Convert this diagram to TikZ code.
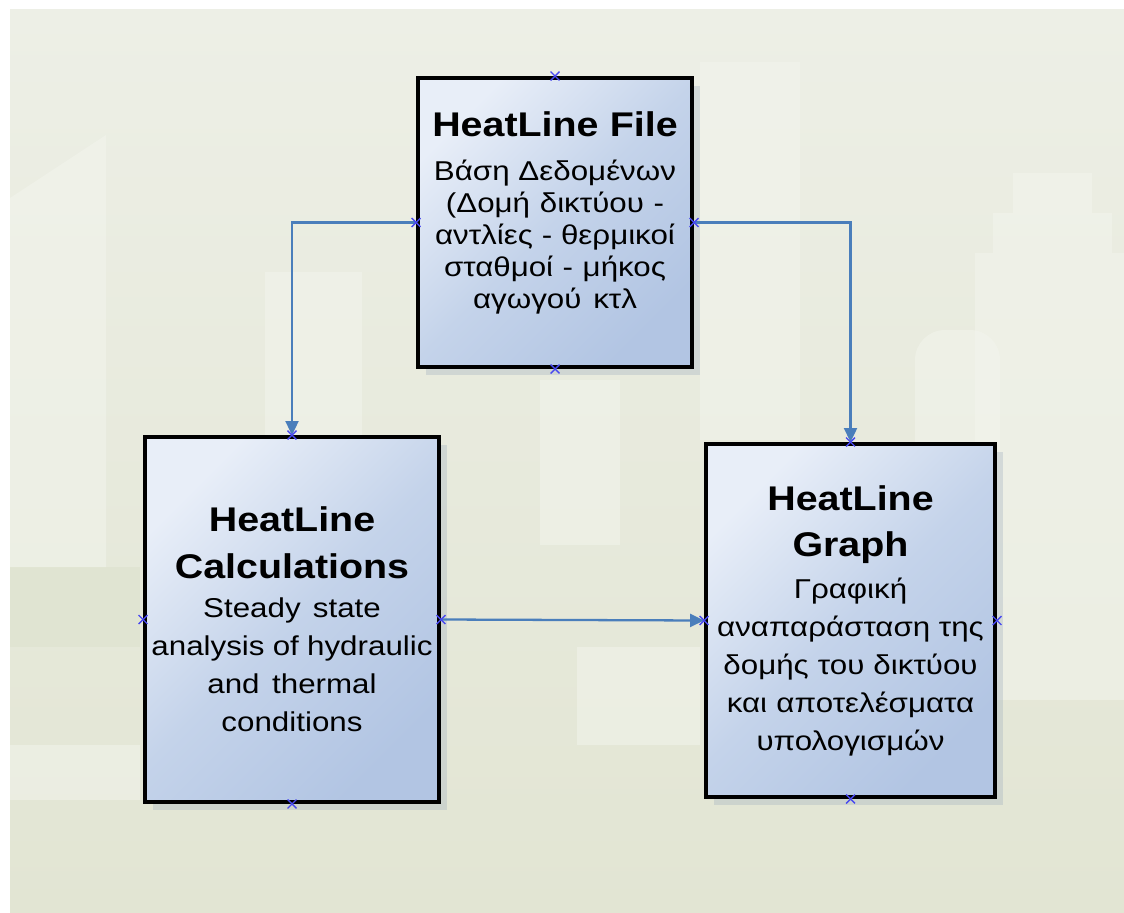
\documentclass[tikz,border=0pt]{standalone}
\usepackage{fontspec}
\setmainfont{Liberation Sans}[FakeStretch=1.15]
\usetikzlibrary{arrows.meta,shadows,shapes.misc}

\definecolor{bgtop}{HTML}{EDEFE6}
\definecolor{bgbot}{HTML}{E2E5D3}
\definecolor{bglite}{HTML}{F3F5EE}
\definecolor{bgdark}{HTML}{E0E4D2}
\definecolor{boxlite}{HTML}{E8EEF8}
\definecolor{boxmid}{HTML}{C4D3EA}
\definecolor{boxdark}{HTML}{B2C5E3}
\definecolor{linkblue}{HTML}{4A7EBB}
\definecolor{pinblue}{HTML}{4848F0}
\definecolor{shadecol}{HTML}{A3B1C0}

\newcommand{\hdfont}{\fontsize{19.5}{26.5}\selectfont\bfseries\spaceskip=.3em plus .1em}
\newcommand{\txtfont}[1]{\fontsize{15.5}{#1}\selectfont\spaceskip=.29em plus .1em}

\tikzset{
  block/.style={draw=black, line width=2.3pt, top color=boxlite, bottom color=boxdark,
    middle color=boxmid, shading angle=45, align=center, inner sep=0pt,
    drop shadow={shadow xshift=.16cm, shadow yshift=-.16cm, fill=shadecol, opacity=.35}},
  link/.style={draw=linkblue, line width=1.3pt, -{Triangle[length=.28cm,width=.26cm]}},
  xpin/.style={cross out, draw=pinblue, line width=.8pt, minimum size=.15cm, inner sep=0pt},
  bldg/.style={fill=bglite, opacity=.5}
}

\begin{document}
\begin{tikzpicture}[x=0.02cm, y=-0.02cm]
	\useasboundingbox (0,0) rectangle (1124,912);
	%\draw[help lines] (0,0) grid[step=100] (1124,912);
	% background scene
	\shade[top color=bgtop, bottom color=bgbot] (10,10) rectangle (1124,912);
	\fill[bgdark] (10,567) rectangle (140,647);
	\fill[bldg] (10,198) -- (106,135) -- (106,567) -- (10,567) -- cycle;
	\fill[bldg] (265,272) rectangle (362,560);
	\fill[bldg] (700,62) rectangle (800,440);
	\fill[bldg] (540,380) rectangle (620,545);
	\fill[bldg] (1013,173) rectangle (1092,213);
	\fill[bldg] (993,213) rectangle (1112,253);
	\fill[bldg] (975,253) rectangle (1124,700);
	\fill[bldg, rounded corners=.6cm] (915,700) -- (915,330) -- (1000,330) -- (1000,700) -- cycle;
	\fill[bldg] (577,647) rectangle (700,745);
	\fill[bldg] (10,745) rectangle (140,800);

	% boxes
	\node[block, minimum width=5.48cm, minimum height=5.78cm, text width=5.3cm] (file) at (555,222.5)
		{{\hdfont HeatLine File\par}\vspace{7pt}\txtfont{18.2pt}Βάση Δεδομένων\\(Δομή δικτύου -\\αντλίες - θερμικοί\\σταθμοί - μήκος\\αγωγού κτλ\par\vspace{.4cm}\hrule height 0pt width 0pt};
	\node[block, minimum width=5.88cm, minimum height=7.3cm, text width=5.8cm] (calc) at (292,619.5)
		{{\hdfont HeatLine\\Calculations\par}\vspace{1pt}\txtfont{21.6pt}Steady state\\analysis of hydraulic\\and thermal\\conditions\par};
	\node[block, minimum width=5.78cm, minimum height=7.06cm, text width=5.7cm] (graph) at (850.5,620.5)
		{{\hdfont HeatLine\\Graph\par}\vspace{2pt}\txtfont{21.6pt}Γραφική\\αναπαράσταση της\\δομής του δικτύου\\και αποτελέσματα\\υπολογισμών\par};

	% connectors
	\draw[link] (file.west) -| (calc.north);
	\draw[link] (file.east) -| (graph.north);
	\draw[link] (calc.east) -- (graph.west);

	% connection points
	\foreach \b in {file,calc,graph}
		\foreach \a in {north,south,east,west}
			\node[xpin] (\b-\a-x) at (\b.\a) {};
\end{tikzpicture}
\end{document}
